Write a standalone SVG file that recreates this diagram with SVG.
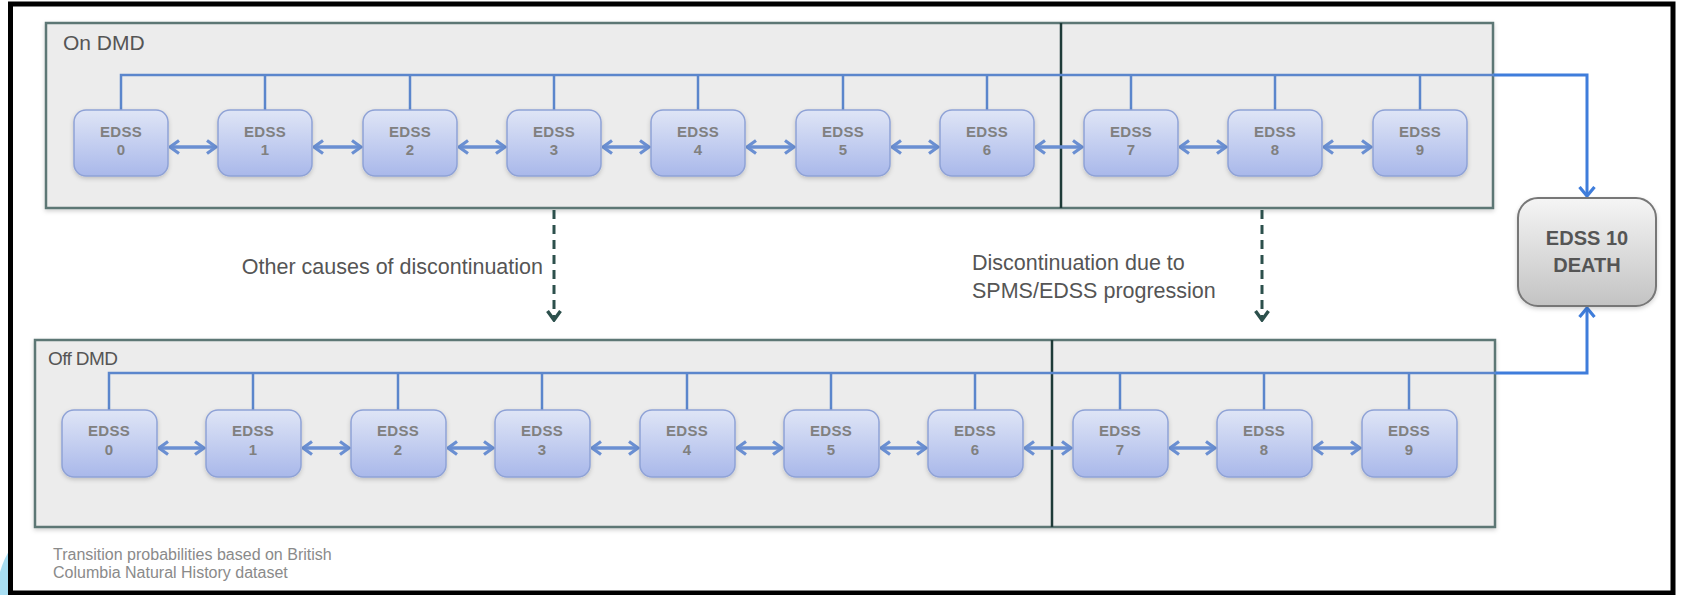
<svg xmlns="http://www.w3.org/2000/svg" width="1685" height="595" viewBox="0 0 1685 595">
  <style>
    .panel { fill: #ececec; stroke: #5d7774; stroke-width: 2.5; }
    .divider { stroke: #1e3b38; stroke-width: 2.5; }
    .panel-label { font-family: "Liberation Sans", Arial, sans-serif; fill: #555; }
    .state rect { fill: url(#stateFill); stroke: #8fa2d6; stroke-width: 1.5; }
    .state text { font-family: "Liberation Sans", Arial, sans-serif; font-weight: bold; font-size: 15px; fill: #808080; text-anchor: middle; letter-spacing: 0.3px; }
    .bus { fill: none; stroke: #5b86cc; stroke-width: 2.5; }
    .to-death { fill: none; stroke: #3f7ddb; stroke-width: 3; }
    .step { stroke: #6a8fd2; stroke-width: 3.5; fill: none; }
    .switch { stroke: #2c504c; stroke-width: 3; stroke-dasharray: 9 6; fill: none; }
    .note { font-family: "Liberation Sans", Arial, sans-serif; font-size: 21.5px; fill: #555; }
    .foot { font-family: "Liberation Sans", Arial, sans-serif; font-size: 16px; fill: #8a8a8a; }
    .death text { font-family: "Liberation Sans", Arial, sans-serif; font-weight: bold; font-size: 20px; fill: #555; text-anchor: middle; }
  </style>
  <defs>
    <linearGradient id="stateFill" x1="0" y1="0" x2="0" y2="1">
      <stop offset="0" stop-color="#dfe5f6"/>
      <stop offset="1" stop-color="#a9b8ea"/>
    </linearGradient>
    <linearGradient id="deathFill" x1="0" y1="0" x2="0" y2="1">
      <stop offset="0" stop-color="#f5f5f5"/>
      <stop offset="1" stop-color="#c3c3c3"/>
    </linearGradient>
    <filter id="shadow" x="-5%" y="-5%" width="110%" height="120%">
      <feDropShadow dx="0" dy="2" stdDeviation="2" flood-color="#000" flood-opacity="0.18"/>
    </filter>
    <marker id="chevBlue" viewBox="0 0 12 16" refX="10.5" refY="8" markerWidth="12" markerHeight="16" markerUnits="userSpaceOnUse" orient="auto-start-reverse">
      <path d="M1.5,1.5 L10.5,8 L1.5,14.5" fill="none" stroke="#6a8fd2" stroke-width="3.2"/>
    </marker>
    <marker id="chevBright" viewBox="0 0 12 18" refX="10.5" refY="9" markerWidth="12" markerHeight="18" markerUnits="userSpaceOnUse" orient="auto">
      <path d="M1.5,1.5 L10.5,9 L1.5,16.5" fill="none" stroke="#3f7ddb" stroke-width="3.2"/>
    </marker>
    <marker id="chevDark" viewBox="0 0 12 16" refX="10.5" refY="8" markerWidth="12" markerHeight="16" markerUnits="userSpaceOnUse" orient="auto">
      <path d="M1.5,1.5 L10.5,8 L1.5,14.5" fill="none" stroke="#2c504c" stroke-width="3.4"/>
    </marker>
  </defs>

  <!-- page background and frame -->
  <rect x="0" y="0" width="1685" height="595" fill="#ffffff"/>
  <path d="M0,572 Q4,558 11,548 L11,595 L0,595 Z" fill="#a8def2"/>
  <rect x="10.5" y="4" width="1662.5" height="589" fill="#ffffff" stroke="#000" stroke-width="5"/>

  <!-- treatment panels -->
  <g id="panel-on">
    <rect class="panel" x="46" y="23" width="1447" height="185" filter="url(#shadow)"/>
    <line class="divider" x1="1061" y1="23" x2="1061" y2="208"/>
    <text class="panel-label" x="63" y="50" font-size="21">On DMD</text>
  </g>
  <g id="panel-off">
    <rect class="panel" x="35" y="340" width="1460" height="187" filter="url(#shadow)"/>
    <line class="divider" x1="1052" y1="340" x2="1052" y2="527" stroke-width="3"/>
    <text class="panel-label" x="48" y="365" font-size="19" letter-spacing="-0.6">Off DMD</text>
  </g>

  <!-- connectors -->
  <g id="connectors">
    <!-- on-treatment bus to death -->
    <path class="to-death" d="M1493,75 L1587,75 L1587,196" marker-end="url(#chevBright)"/>
    <path class="bus" d="M121,110 L121,75 L1494,75 M265,75 L265,110 M410,75 L410,110 M554,75 L554,110 M698,75 L698,110 M843,75 L843,110 M987,75 L987,110 M1131,75 L1131,110 M1275,75 L1275,110 M1420,75 L1420,110"/>
    <!-- off-treatment bus to death -->
    <path class="to-death" d="M1495,373 L1587,373 L1587,308" marker-end="url(#chevBright)"/>
    <path class="bus" d="M109,410 L109,373 L1496,373 M253,373 L253,410 M398,373 L398,410 M542,373 L542,410 M687,373 L687,410 M831,373 L831,410 M975,373 L975,410 M1120,373 L1120,410 M1264,373 L1264,410 M1409,373 L1409,410"/>

    <!-- transitions between neighbouring states, on DMD -->
    <g marker-start="url(#chevBlue)" marker-end="url(#chevBlue)">
      <line class="step" x1="170" y1="147" x2="216" y2="147"/>
      <line class="step" x1="314" y1="147" x2="361" y2="147"/>
      <line class="step" x1="459" y1="147" x2="505" y2="147"/>
      <line class="step" x1="603" y1="147" x2="649" y2="147"/>
      <line class="step" x1="747" y1="147" x2="794" y2="147"/>
      <line class="step" x1="892" y1="147" x2="938" y2="147"/>
      <line class="step" x1="1036" y1="147" x2="1082" y2="147"/>
      <line class="step" x1="1180" y1="147" x2="1226" y2="147"/>
      <line class="step" x1="1324" y1="147" x2="1371" y2="147"/>
    </g>
    <!-- transitions between neighbouring states, off DMD -->
    <g marker-start="url(#chevBlue)" marker-end="url(#chevBlue)">
      <line class="step" x1="159" y1="448" x2="204" y2="448"/>
      <line class="step" x1="303" y1="448" x2="349" y2="448"/>
      <line class="step" x1="448" y1="448" x2="493" y2="448"/>
      <line class="step" x1="592" y1="448" x2="638" y2="448"/>
      <line class="step" x1="737" y1="448" x2="782" y2="448"/>
      <line class="step" x1="881" y1="448" x2="926" y2="448"/>
      <line class="step" x1="1025" y1="448" x2="1071" y2="448"/>
      <line class="step" x1="1170" y1="448" x2="1215" y2="448"/>
      <line class="step" x1="1314" y1="448" x2="1360" y2="448"/>
    </g>

    <!-- discontinuation -->
    <line class="switch" x1="554" y1="210" x2="554" y2="320" marker-end="url(#chevDark)"/>
    <line class="switch" x1="1262" y1="210" x2="1262" y2="320" marker-end="url(#chevDark)"/>
  </g>

  <!-- on-treatment states -->
  <g id="on-edss-0" class="state"><rect x="74" y="110" width="94" height="66" rx="12" filter="url(#shadow)"/><text x="121" y="137">EDSS</text><text x="121" y="155">0</text></g>
  <g id="on-edss-1" class="state"><rect x="218" y="110" width="94" height="66" rx="12" filter="url(#shadow)"/><text x="265" y="137">EDSS</text><text x="265" y="155">1</text></g>
  <g id="on-edss-2" class="state"><rect x="363" y="110" width="94" height="66" rx="12" filter="url(#shadow)"/><text x="410" y="137">EDSS</text><text x="410" y="155">2</text></g>
  <g id="on-edss-3" class="state"><rect x="507" y="110" width="94" height="66" rx="12" filter="url(#shadow)"/><text x="554" y="137">EDSS</text><text x="554" y="155">3</text></g>
  <g id="on-edss-4" class="state"><rect x="651" y="110" width="94" height="66" rx="12" filter="url(#shadow)"/><text x="698" y="137">EDSS</text><text x="698" y="155">4</text></g>
  <g id="on-edss-5" class="state"><rect x="796" y="110" width="94" height="66" rx="12" filter="url(#shadow)"/><text x="843" y="137">EDSS</text><text x="843" y="155">5</text></g>
  <g id="on-edss-6" class="state"><rect x="940" y="110" width="94" height="66" rx="12" filter="url(#shadow)"/><text x="987" y="137">EDSS</text><text x="987" y="155">6</text></g>
  <g id="on-edss-7" class="state"><rect x="1084" y="110" width="94" height="66" rx="12" filter="url(#shadow)"/><text x="1131" y="137">EDSS</text><text x="1131" y="155">7</text></g>
  <g id="on-edss-8" class="state"><rect x="1228" y="110" width="94" height="66" rx="12" filter="url(#shadow)"/><text x="1275" y="137">EDSS</text><text x="1275" y="155">8</text></g>
  <g id="on-edss-9" class="state"><rect x="1373" y="110" width="94" height="66" rx="12" filter="url(#shadow)"/><text x="1420" y="137">EDSS</text><text x="1420" y="155">9</text></g>

  <!-- off-treatment states -->
  <g id="off-edss-0" class="state"><rect x="62" y="410" width="95" height="67" rx="12" filter="url(#shadow)"/><text x="109" y="436">EDSS</text><text x="109" y="455">0</text></g>
  <g id="off-edss-1" class="state"><rect x="206" y="410" width="95" height="67" rx="12" filter="url(#shadow)"/><text x="253" y="436">EDSS</text><text x="253" y="455">1</text></g>
  <g id="off-edss-2" class="state"><rect x="351" y="410" width="95" height="67" rx="12" filter="url(#shadow)"/><text x="398" y="436">EDSS</text><text x="398" y="455">2</text></g>
  <g id="off-edss-3" class="state"><rect x="495" y="410" width="95" height="67" rx="12" filter="url(#shadow)"/><text x="542" y="436">EDSS</text><text x="542" y="455">3</text></g>
  <g id="off-edss-4" class="state"><rect x="640" y="410" width="95" height="67" rx="12" filter="url(#shadow)"/><text x="687" y="436">EDSS</text><text x="687" y="455">4</text></g>
  <g id="off-edss-5" class="state"><rect x="784" y="410" width="95" height="67" rx="12" filter="url(#shadow)"/><text x="831" y="436">EDSS</text><text x="831" y="455">5</text></g>
  <g id="off-edss-6" class="state"><rect x="928" y="410" width="95" height="67" rx="12" filter="url(#shadow)"/><text x="975" y="436">EDSS</text><text x="975" y="455">6</text></g>
  <g id="off-edss-7" class="state"><rect x="1073" y="410" width="95" height="67" rx="12" filter="url(#shadow)"/><text x="1120" y="436">EDSS</text><text x="1120" y="455">7</text></g>
  <g id="off-edss-8" class="state"><rect x="1217" y="410" width="95" height="67" rx="12" filter="url(#shadow)"/><text x="1264" y="436">EDSS</text><text x="1264" y="455">8</text></g>
  <g id="off-edss-9" class="state"><rect x="1362" y="410" width="95" height="67" rx="12" filter="url(#shadow)"/><text x="1409" y="436">EDSS</text><text x="1409" y="455">9</text></g>

  <!-- absorbing state -->
  <g id="edss-10-death" class="death">
    <rect x="1518" y="198" width="138" height="108" rx="20" fill="url(#deathFill)" stroke="#777" stroke-width="2" filter="url(#shadow)"/>
    <text x="1587" y="245">EDSS 10</text>
    <text x="1587" y="272">DEATH</text>
  </g>

  <!-- discontinuation labels -->
  <text class="note" x="543" y="274" text-anchor="end">Other causes of discontinuation</text>
  <text class="note" x="972" y="270">Discontinuation due to</text>
  <text class="note" x="972" y="298">SPMS/EDSS progression</text>

  <!-- source note -->
  <text class="foot" x="53" y="560">Transition probabilities based on British</text>
  <text class="foot" x="53" y="578">Columbia Natural History dataset</text>
</svg>
